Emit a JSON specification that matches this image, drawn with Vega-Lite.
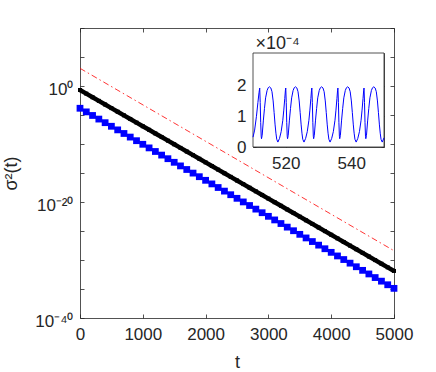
{
  "$schema": "https://vega.github.io/schema/vega-lite/v6.json",
  "width": 314,
  "height": 290,
  "autosize": {"type": "none"},
  "padding": {"left": 80, "top": 28, "right": 42, "bottom": 54},
  "background": "white",
  "config": {
    "view": {"stroke": null},
    "font": "Liberation Sans",
    "axis": {
      "domainColor": "#262626", "domainWidth": 0.8,
      "tickColor": "#262626", "tickWidth": 0.8, "tickSize": -4,
      "labelColor": "#262626", "labelFont": "Liberation Sans", "labelFontSize": 17,
      "titleFont": "Liberation Sans", "titleFontWeight": "normal", "titleColor": "#262626",
      "grid": false, "labelFlush": false, "labelOverlap": false
    }
  },
  "datasets": {
    "curves": [
      {"t": 0, "series": "A", "value": 2.04e-1}, {"t": 100, "series": "A", "value": 4.85e-2}, {"t": 200, "series": "A", "value": 1.15e-2}, {"t": 300, "series": "A", "value": 2.74e-3}, {"t": 400, "series": "A", "value": 6.52e-4}, {"t": 500, "series": "A", "value": 1.55e-4}, {"t": 600, "series": "A", "value": 3.68e-5}, {"t": 700, "series": "A", "value": 8.75e-6}, {"t": 800, "series": "A", "value": 2.08e-6}, {"t": 900, "series": "A", "value": 4.94e-7},
      {"t": 1000, "series": "A", "value": 1.17e-7}, {"t": 1100, "series": "A", "value": 2.79e-8}, {"t": 1200, "series": "A", "value": 6.64e-9}, {"t": 1300, "series": "A", "value": 1.58e-9}, {"t": 1400, "series": "A", "value": 3.75e-10}, {"t": 1500, "series": "A", "value": 8.91e-11}, {"t": 1600, "series": "A", "value": 2.12e-11}, {"t": 1700, "series": "A", "value": 5.04e-12}, {"t": 1800, "series": "A", "value": 1.20e-12}, {"t": 1900, "series": "A", "value": 2.84e-13},
      {"t": 2000, "series": "A", "value": 6.76e-14}, {"t": 2100, "series": "A", "value": 1.61e-14}, {"t": 2200, "series": "A", "value": 3.82e-15}, {"t": 2300, "series": "A", "value": 9.08e-16}, {"t": 2400, "series": "A", "value": 2.16e-16}, {"t": 2500, "series": "A", "value": 5.13e-17}, {"t": 2600, "series": "A", "value": 1.22e-17}, {"t": 2700, "series": "A", "value": 2.90e-18}, {"t": 2800, "series": "A", "value": 6.89e-19}, {"t": 2900, "series": "A", "value": 1.64e-19},
      {"t": 3000, "series": "A", "value": 3.89e-20}, {"t": 3100, "series": "A", "value": 9.25e-21}, {"t": 3200, "series": "A", "value": 2.20e-21}, {"t": 3300, "series": "A", "value": 5.22e-22}, {"t": 3400, "series": "A", "value": 1.24e-22}, {"t": 3500, "series": "A", "value": 2.95e-23}, {"t": 3600, "series": "A", "value": 7.01e-24}, {"t": 3700, "series": "A", "value": 1.67e-24}, {"t": 3800, "series": "A", "value": 3.96e-25}, {"t": 3900, "series": "A", "value": 9.42e-26},
      {"t": 4000, "series": "A", "value": 2.24e-26}, {"t": 4100, "series": "A", "value": 5.32e-27}, {"t": 4200, "series": "A", "value": 1.26e-27}, {"t": 4300, "series": "A", "value": 3.01e-28}, {"t": 4400, "series": "A", "value": 7.14e-29}, {"t": 4500, "series": "A", "value": 1.70e-29}, {"t": 4600, "series": "A", "value": 4.04e-30}, {"t": 4700, "series": "A", "value": 9.59e-31}, {"t": 4800, "series": "A", "value": 2.28e-31}, {"t": 4900, "series": "A", "value": 5.42e-32},
      {"t": 5000, "series": "A", "value": 1.29e-32},
      {"t": 0, "series": "B", "value": 1.45e-4}, {"t": 100, "series": "B", "value": 3.46e-5}, {"t": 200, "series": "B", "value": 8.28e-6}, {"t": 300, "series": "B", "value": 1.98e-6}, {"t": 400, "series": "B", "value": 4.74e-7}, {"t": 500, "series": "B", "value": 1.14e-7}, {"t": 600, "series": "B", "value": 2.72e-8}, {"t": 700, "series": "B", "value": 6.50e-9}, {"t": 800, "series": "B", "value": 1.56e-9}, {"t": 900, "series": "B", "value": 3.72e-10},
      {"t": 1000, "series": "B", "value": 8.91e-11}, {"t": 1100, "series": "B", "value": 2.13e-11}, {"t": 1200, "series": "B", "value": 5.11e-12}, {"t": 1300, "series": "B", "value": 1.22e-12}, {"t": 1400, "series": "B", "value": 2.92e-13}, {"t": 1500, "series": "B", "value": 7.00e-14}, {"t": 1600, "series": "B", "value": 1.67e-14}, {"t": 1700, "series": "B", "value": 4.01e-15}, {"t": 1800, "series": "B", "value": 9.59e-16}, {"t": 1900, "series": "B", "value": 2.30e-16},
      {"t": 2000, "series": "B", "value": 5.50e-17}, {"t": 2100, "series": "B", "value": 1.32e-17}, {"t": 2200, "series": "B", "value": 3.15e-18}, {"t": 2300, "series": "B", "value": 7.53e-19}, {"t": 2400, "series": "B", "value": 1.80e-19}, {"t": 2500, "series": "B", "value": 4.32e-20}, {"t": 2600, "series": "B", "value": 1.03e-20}, {"t": 2700, "series": "B", "value": 2.47e-21}, {"t": 2800, "series": "B", "value": 5.92e-22}, {"t": 2900, "series": "B", "value": 1.42e-22},
      {"t": 3000, "series": "B", "value": 3.39e-23}, {"t": 3100, "series": "B", "value": 8.11e-24}, {"t": 3200, "series": "B", "value": 1.94e-24}, {"t": 3300, "series": "B", "value": 4.65e-25}, {"t": 3400, "series": "B", "value": 1.11e-25}, {"t": 3500, "series": "B", "value": 2.66e-26}, {"t": 3600, "series": "B", "value": 6.37e-27}, {"t": 3700, "series": "B", "value": 1.52e-27}, {"t": 3800, "series": "B", "value": 3.65e-28}, {"t": 3900, "series": "B", "value": 8.73e-29},
      {"t": 4000, "series": "B", "value": 2.09e-29}, {"t": 4100, "series": "B", "value": 5.00e-30}, {"t": 4200, "series": "B", "value": 1.20e-30}, {"t": 4300, "series": "B", "value": 2.86e-31}, {"t": 4400, "series": "B", "value": 6.85e-32}, {"t": 4500, "series": "B", "value": 1.64e-32}, {"t": 4600, "series": "B", "value": 3.93e-33}, {"t": 4700, "series": "B", "value": 9.40e-34}, {"t": 4800, "series": "B", "value": 2.25e-34}, {"t": 4900, "series": "B", "value": 5.38e-35},
      {"t": 5000, "series": "B", "value": 1.29e-35},
      {"t": 0, "series": "ref", "value": 1.12e3}, {"t": 5000, "series": "ref", "value": 3.98e-29}
    ],
    "inset": [
      {"t": 510, "value": 0.32e-4}, {"t": 510.5, "value": 0.55e-4}, {"t": 511.05, "value": 1.0e-4}, {"t": 511.5, "value": 1.45e-4}, {"t": 511.85, "value": 1.78e-4}, {"t": 512.05, "value": 1.92e-4}, {"t": 512.2, "value": 1.45e-4}, {"t": 512.35, "value": 0.8e-4}, {"t": 512.5, "value": 0.35e-4}, {"t": 512.6, "value": 0.27e-4}, {"t": 512.8, "value": 0.38e-4}, {"t": 513.15, "value": 0.85e-4}, {"t": 513.5, "value": 1.25e-4}, {"t": 513.85, "value": 1.6e-4}, {"t": 514.3, "value": 1.84e-4}, {"t": 514.65, "value": 1.93e-4}, {"t": 515.05, "value": 1.96e-4}, {"t": 515.45, "value": 1.92e-4}, {"t": 515.8, "value": 1.8e-4}, {"t": 516.15, "value": 1.5e-4}, {"t": 516.45, "value": 1.12e-4}, {"t": 516.75, "value": 0.72e-4}, {"t": 517.0, "value": 0.45e-4}, {"t": 517.25, "value": 0.25e-4}, {"t": 517.6, "value": 0.16e-4},
      {"t": 518.1, "value": 0.28e-4}, {"t": 518.6, "value": 0.5e-4}, {"t": 519.1, "value": 0.87e-4}, {"t": 519.4, "value": 1.2e-4}, {"t": 519.7, "value": 1.58e-4}, {"t": 519.9, "value": 1.85e-4}, {"t": 520.0, "value": 1.92e-4}, {"t": 520.15, "value": 1.45e-4}, {"t": 520.3, "value": 0.8e-4}, {"t": 520.45, "value": 0.35e-4}, {"t": 520.55, "value": 0.27e-4}, {"t": 520.75, "value": 0.38e-4}, {"t": 521.1, "value": 0.85e-4}, {"t": 521.45, "value": 1.25e-4}, {"t": 521.8, "value": 1.6e-4}, {"t": 522.25, "value": 1.84e-4}, {"t": 522.6, "value": 1.93e-4}, {"t": 523.0, "value": 1.96e-4}, {"t": 523.4, "value": 1.92e-4}, {"t": 523.75, "value": 1.8e-4}, {"t": 524.1, "value": 1.5e-4}, {"t": 524.4, "value": 1.12e-4}, {"t": 524.7, "value": 0.72e-4}, {"t": 524.95, "value": 0.45e-4}, {"t": 525.2, "value": 0.25e-4}, {"t": 525.57, "value": 0.16e-4},
      {"t": 526.07, "value": 0.28e-4}, {"t": 526.57, "value": 0.5e-4}, {"t": 527.07, "value": 0.87e-4}, {"t": 527.37, "value": 1.2e-4}, {"t": 527.67, "value": 1.58e-4}, {"t": 527.87, "value": 1.85e-4}, {"t": 527.97, "value": 1.92e-4}, {"t": 528.12, "value": 1.45e-4}, {"t": 528.27, "value": 0.8e-4}, {"t": 528.42, "value": 0.35e-4}, {"t": 528.52, "value": 0.27e-4}, {"t": 528.72, "value": 0.38e-4}, {"t": 529.07, "value": 0.85e-4}, {"t": 529.42, "value": 1.25e-4}, {"t": 529.77, "value": 1.6e-4}, {"t": 530.22, "value": 1.84e-4}, {"t": 530.57, "value": 1.93e-4}, {"t": 530.97, "value": 1.96e-4}, {"t": 531.37, "value": 1.92e-4}, {"t": 531.72, "value": 1.8e-4}, {"t": 532.07, "value": 1.5e-4}, {"t": 532.37, "value": 1.12e-4}, {"t": 532.67, "value": 0.72e-4}, {"t": 532.92, "value": 0.45e-4}, {"t": 533.17, "value": 0.25e-4}, {"t": 533.53, "value": 0.16e-4},
      {"t": 534.03, "value": 0.28e-4}, {"t": 534.53, "value": 0.5e-4}, {"t": 535.03, "value": 0.87e-4}, {"t": 535.33, "value": 1.2e-4}, {"t": 535.63, "value": 1.58e-4}, {"t": 535.83, "value": 1.85e-4}, {"t": 535.93, "value": 1.92e-4}, {"t": 536.08, "value": 1.45e-4}, {"t": 536.23, "value": 0.8e-4}, {"t": 536.38, "value": 0.35e-4}, {"t": 536.48, "value": 0.27e-4}, {"t": 536.68, "value": 0.38e-4}, {"t": 537.03, "value": 0.85e-4}, {"t": 537.38, "value": 1.25e-4}, {"t": 537.73, "value": 1.6e-4}, {"t": 538.18, "value": 1.84e-4}, {"t": 538.53, "value": 1.93e-4}, {"t": 538.93, "value": 1.96e-4}, {"t": 539.33, "value": 1.92e-4}, {"t": 539.68, "value": 1.8e-4}, {"t": 540.03, "value": 1.5e-4}, {"t": 540.33, "value": 1.12e-4}, {"t": 540.63, "value": 0.72e-4}, {"t": 540.88, "value": 0.45e-4}, {"t": 541.13, "value": 0.25e-4}, {"t": 541.5, "value": 0.16e-4},
      {"t": 542.0, "value": 0.28e-4}, {"t": 542.5, "value": 0.5e-4}, {"t": 543.0, "value": 0.87e-4}, {"t": 543.3, "value": 1.2e-4}, {"t": 543.6, "value": 1.58e-4}, {"t": 543.8, "value": 1.85e-4}, {"t": 543.9, "value": 1.92e-4}, {"t": 544.05, "value": 1.45e-4}, {"t": 544.2, "value": 0.8e-4}, {"t": 544.35, "value": 0.35e-4}, {"t": 544.45, "value": 0.27e-4}, {"t": 544.65, "value": 0.38e-4}, {"t": 545.0, "value": 0.85e-4}, {"t": 545.35, "value": 1.25e-4}, {"t": 545.7, "value": 1.6e-4}, {"t": 546.15, "value": 1.84e-4}, {"t": 546.5, "value": 1.93e-4}, {"t": 546.9, "value": 1.96e-4}, {"t": 547.3, "value": 1.92e-4}, {"t": 547.65, "value": 1.8e-4}, {"t": 548.0, "value": 1.5e-4}, {"t": 548.3, "value": 1.12e-4}, {"t": 548.6, "value": 0.72e-4}, {"t": 548.85, "value": 0.45e-4}, {"t": 549.1, "value": 0.25e-4}, {"t": 549.46, "value": 0.16e-4}, {"t": 550.0, "value": 0.3e-4}
    ]
  },
  "layer": [
    {
      "layer": [
        {
          "data": {"name": "curves"},
          "transform": [{"filter": "datum.series === 'A'"}],
          "mark": {"type": "line", "color": "#000000", "strokeWidth": 4.5, "point": {"filled": true, "shape": "square", "size": 16, "color": "#000000"}},
          "encoding": {
            "x": {"field": "t", "type": "quantitative", "scale": {"domain": [0, 5000], "nice": false},
              "axis": {"orient": "bottom", "values": [0, 1000, 2000, 3000, 4000, 5000], "format": "d", "labelPadding": 12, "title": "t", "titleFontSize": 18, "titleY": 49, "titleBaseline": "alphabetic"}},
            "y": {"field": "value", "type": "quantitative", "scale": {"type": "log", "domain": [1e-40, 1e10], "nice": false},
              "axis": {"orient": "left", "values": [1e10, 1e5, 1, 1e-5, 1e-10, 1e-15, 1e-20, 1e-25, 1e-30, 1e-35, 1e-40],
                "labelExpr": "datum.value == 1 ? '10⁰' : (datum.value == 1e-20 ? '10⁻²⁰' : (datum.value == 1e-40 ? '10⁻⁴⁰' : ''))",
                "labelPadding": 11, "labelOffset": 3, "title": "σ²(t)", "titleFontSize": 18, "titleAngle": -90, "titleX": -64, "titleY": 145, "titleAlign": "center", "titleBaseline": "alphabetic"}}
          }
        },
        {
          "data": {"name": "curves"},
          "transform": [{"filter": "datum.series === 'B'"}],
          "mark": {"type": "line", "color": "#0000ff", "strokeWidth": 2, "point": {"filled": true, "shape": "square", "size": 46, "color": "#0000ff"}},
          "encoding": {
            "x": {"field": "t", "type": "quantitative", "axis": null},
            "y": {"field": "value", "type": "quantitative", "axis": null}
          }
        },
        {
          "data": {"name": "curves"},
          "transform": [{"filter": "datum.series === 'ref'"}],
          "mark": {"type": "line", "color": "#ff0000", "strokeWidth": 0.8, "strokeDash": [6, 3, 1.5, 3]},
          "encoding": {
            "x": {"field": "t", "type": "quantitative", "axis": {"orient": "top", "values": [0, 1000, 2000, 3000, 4000, 5000], "labels": false, "title": null}},
            "y": {"field": "value", "type": "quantitative", "axis": {"orient": "right", "values": [1e10, 1e5, 1, 1e-5, 1e-10, 1e-15, 1e-20, 1e-25, 1e-30, 1e-35, 1e-40], "labels": false, "title": null}}
          }
        }
      ],
      "resolve": {"axis": {"x": "independent", "y": "independent"}}
    },
    {
      "layer": [
        {
          "data": {"values": [{}]},
          "mark": {"type": "rect", "fill": "white", "stroke": "#262626", "strokeWidth": 0.8},
          "encoding": {
            "x": {"datum": 510, "type": "quantitative", "axis": {"orient": "top", "offset": -25, "values": [520, 540], "labels": false, "title": null, "tickSize": -3}},
            "x2": {"datum": 550},
            "y": {"datum": 0, "type": "quantitative", "axis": {"orient": "right", "offset": -10, "values": [0, 1e-4, 2e-4], "labels": false, "title": null, "tickSize": -3}},
            "y2": {"datum": 3.06e-4}
          }
        },
        {
          "data": {"name": "inset"},
          "mark": {"type": "line", "color": "#0000ff", "strokeWidth": 1},
          "encoding": {
            "x": {"field": "t", "type": "quantitative", "scale": {"domain": [510, 550], "nice": false, "zero": false, "range": [173, 304]},
              "axis": {"orient": "bottom", "offset": -171, "values": [520, 540], "labelPadding": 11, "tickSize": -3, "title": null}},
            "y": {"field": "value", "type": "quantitative", "scale": {"domain": [0, 3.06e-4], "nice": false, "range": [119, 25]},
              "axis": {"orient": "left", "offset": -173, "values": [0, 1e-4, 2e-4], "labelExpr": "format(datum.value * 1e4, 'd')", "labelPadding": 10, "tickSize": -3,
                "title": "×10⁻⁴", "titleFontSize": 18, "titleAngle": 0, "titleX": 2, "titleY": 20, "titleAlign": "left", "titleBaseline": "alphabetic"}}
          }
        }
      ],
      "resolve": {"axis": {"x": "independent", "y": "independent"}}
    }
  ],
  "resolve": {"scale": {"x": "independent", "y": "independent"}, "axis": {"x": "independent", "y": "independent"}}
}
